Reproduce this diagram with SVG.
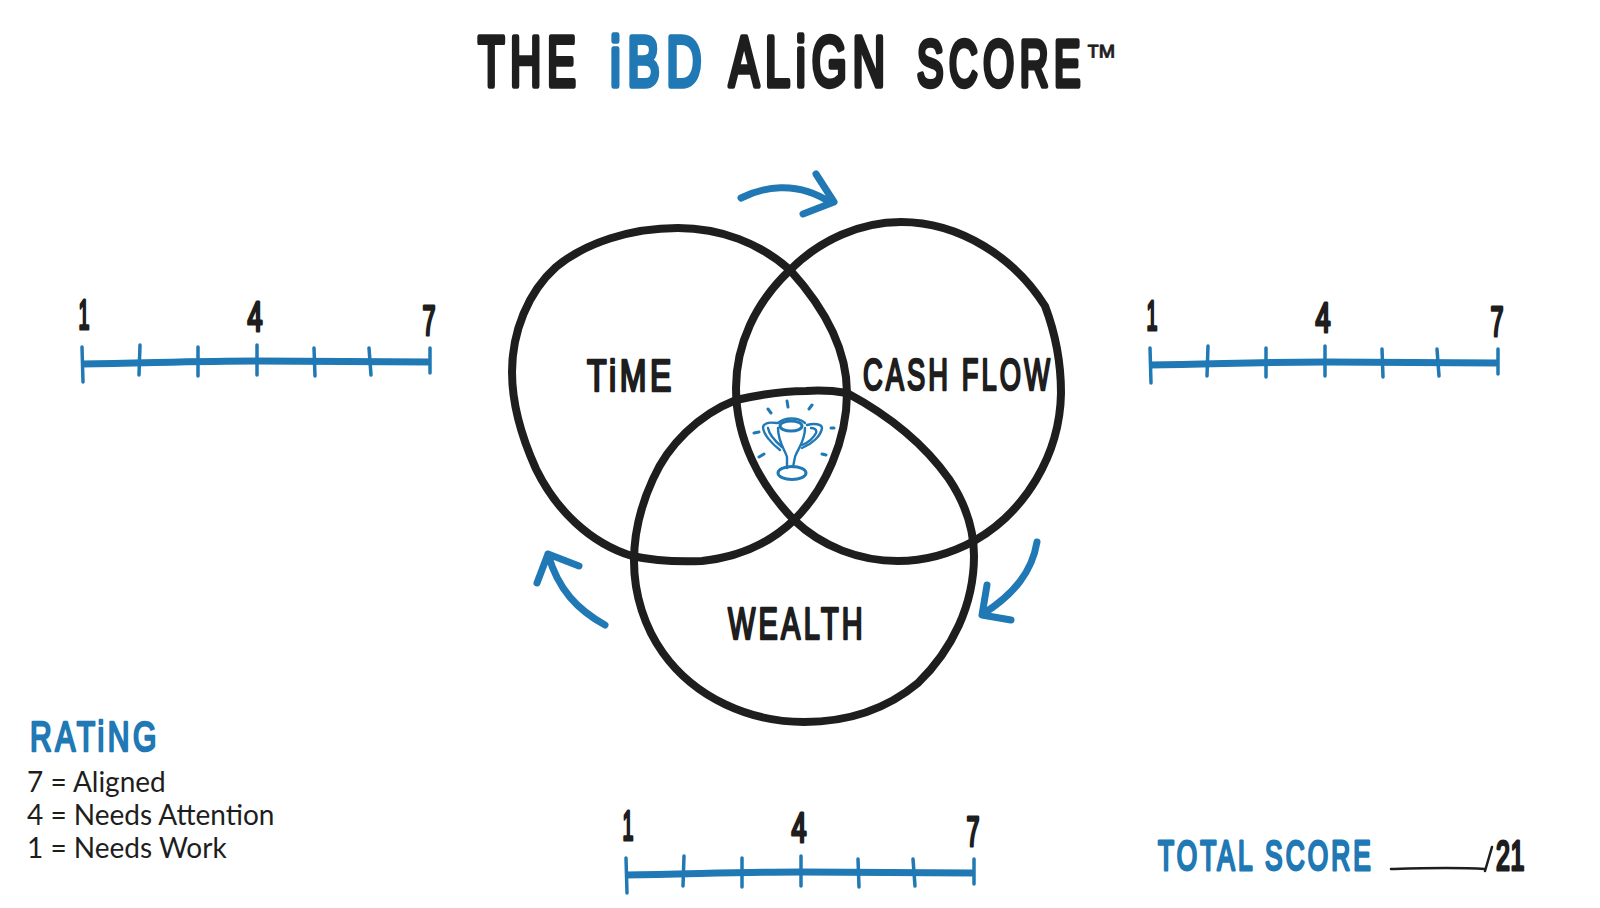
<svg xmlns="http://www.w3.org/2000/svg" width="1600" height="908" viewBox="0 0 1600 908">
<style>
.hand{font-family:"Liberation Sans Narrow","Liberation Sans",sans-serif;font-weight:400;fill:#1e1e1e;stroke:#1e1e1e;stroke-width:2.6;stroke-linejoin:round;stroke-linecap:round;letter-spacing:5px}
.title{font-size:70px;stroke-width:5.4;letter-spacing:9px}
.lab{font-size:44px}
.blue{fill:#2079b4;stroke:#2079b4}
.body{font-family:Lato,"Liberation Sans",sans-serif;font-size:28px;fill:#1e1e1e}
.ring{fill:none;stroke:#1e1e1e;stroke-width:8;stroke-linejoin:round}
.arrow{fill:none;stroke:#2079b4;stroke-width:7;stroke-linecap:round;stroke-linejoin:round}
.bar{fill:none;stroke:#2079b4;stroke-width:7}
.tick{fill:none;stroke:#2079b4;stroke-width:3.5;stroke-linecap:round}
.tr{fill:none;stroke:#2079b4;stroke-width:2.4;stroke-linecap:round;stroke-linejoin:round}
.ray{fill:none;stroke:#2079b4;stroke-width:3;stroke-linecap:round}
.num{font-size:42px;stroke-width:3.2;letter-spacing:0}
</style>
<defs>
<g id="scale">
<path class="bar" d="M82 364C150 363 200 361 257 361C320 361 380 362 430 362"/>
<path class="tick" d="M82 347L83 382M140 345L139 375M198 347L198 376M257 345L257 375M314 348L315 376M369 348L371 375M430 348L430 373"/>
<text class="hand num" x="84" y="329" text-anchor="middle" textLength="11" lengthAdjust="spacingAndGlyphs">1</text>
<text class="hand num" x="255" y="331" text-anchor="middle" textLength="15" lengthAdjust="spacingAndGlyphs">4</text>
<text class="hand num" x="429" y="335" text-anchor="middle" textLength="13" lengthAdjust="spacingAndGlyphs">7</text>
</g>
</defs>
<g id="title">
<text class="hand title" transform="translate(478 86) scale(.62 1)">THE</text>
<text class="hand title blue" transform="translate(610 86) scale(.7 1)">iBD</text>
<text class="hand title" transform="translate(729 86) scale(.645 1)">ALiGN</text>
<text class="hand title" style="font-size:64px" transform="translate(917 86) scale(.62 1)">SCORE</text>
<text class="hand" style="font-size:34px;stroke-width:.8;letter-spacing:0" transform="translate(1085 68) scale(.95 1)">™</text>
</g>
<g id="connectors">
<path class="arrow" d="M741 198C761 188 796 179 831 203M816 174L834 202L803 214"/>
<path class="arrow" d="M1037 542C1032 572 1014 594 983 614M987 585L982 615L1011 620"/>
<path class="arrow" d="M605 625C578 610 558 590 548 554M537 583L548 554L579 566"/>
</g>
<g id="node-time">
<path class="ring" d="M790 270C760 243 720 228 678 228C630 228 585 243 556 267C528 292 512 332 512 372C512 405 522 438 536 469C556 510 590 543 632 556C655 561 680 562 702 561C740 557 770 543 794 520C825 490 847 440 847 393C847 345 820 303 790 270Z"/>
<text class="hand lab" x="587" y="391" textLength="88" lengthAdjust="spacingAndGlyphs">TiME</text>
</g>
<g id="node-cash-flow">
<path class="ring" d="M790 270C820 240 860 222 901 222C960 222 1015 258 1045 306C1056 335 1061 363 1061 393C1060 455 1025 512 974 541C950 554 925 561 898 561C860 561 822 547 794 520C760 485 736 440 736 388C736 345 755 303 790 270Z"/>
<text class="hand lab" x="863" y="390" textLength="190" lengthAdjust="spacingAndGlyphs">CASH FLOW</text>
</g>
<g id="node-wealth">
<path class="ring" d="M847 393C835 391 820 390 806 391C782 391 758 395 736 400C698 415 668 445 653 479C641 505 634 533 634 561C634 595 645 628 663 653C695 698 750 722 804 722C850 722 888 708 918 683C952 650 974 605 974 556C974 528 965 503 949 479C925 445 888 415 847 393Z"/>
<text class="hand lab" x="728" y="639" textLength="138" lengthAdjust="spacingAndGlyphs">WEALTH</text>
</g>
<g id="node-trophy">
<ellipse class="tr" cx="791" cy="426" rx="11" ry="5" style="stroke-width:3"/>
<path class="tr" d="M778 423C785 417 798 417 805 423M778 428C778 442 785 450 787 457L787 468M805 428C805 442 797 450 795 457L793 467"/>
<path class="tr" d="M777 423C770 422 764 423 763 427C763 434 772 444 780 450M768 428C769 434 775 441 782 447M807 425C814 423 822 424 822 428C821 436 812 444 802 448M811 428C815 428 817 430 816 433C813 439 807 443 802 445"/>
<ellipse class="tr" cx="792" cy="473" rx="14" ry="6.5" style="stroke-width:3"/>
<path class="ray" d="M768 409L771 413M787 401L788 407M809 409L812 405M754 433L759 432M831 428L834 428M759 457L764 454M822 454L826 455"/>
</g>
<use id="node-scale-left" href="#scale"/>
<use id="node-scale-right" href="#scale" x="1068" y="1"/>
<use id="node-scale-bottom" href="#scale" x="544" y="511"/>
<g id="node-rating">
<text class="hand blue lab" style="font-size:42px" x="30" y="751" textLength="130" lengthAdjust="spacingAndGlyphs">RATiNG</text>
<text class="body" x="27" y="792">7 = Aligned</text>
<text class="body" x="27" y="825">4 = Needs Attention</text>
<text class="body" x="27" y="858">1 = Needs Work</text>
</g>
<g id="node-total">
<text class="hand blue" style="font-size:42px;stroke-width:3" transform="translate(1158 870) scale(.624 1)">TOTAL SCORE</text>
<path fill="none" stroke="#1e1e1e" stroke-width="2.5" stroke-linecap="round" d="M1391 869C1424 868 1454 867 1485 869M1485 871L1492 847"/>
<text class="hand" style="font-size:42px;stroke-width:3.2;letter-spacing:1px" x="1496" y="870" textLength="29" lengthAdjust="spacingAndGlyphs">21</text>
</g>
</svg>
